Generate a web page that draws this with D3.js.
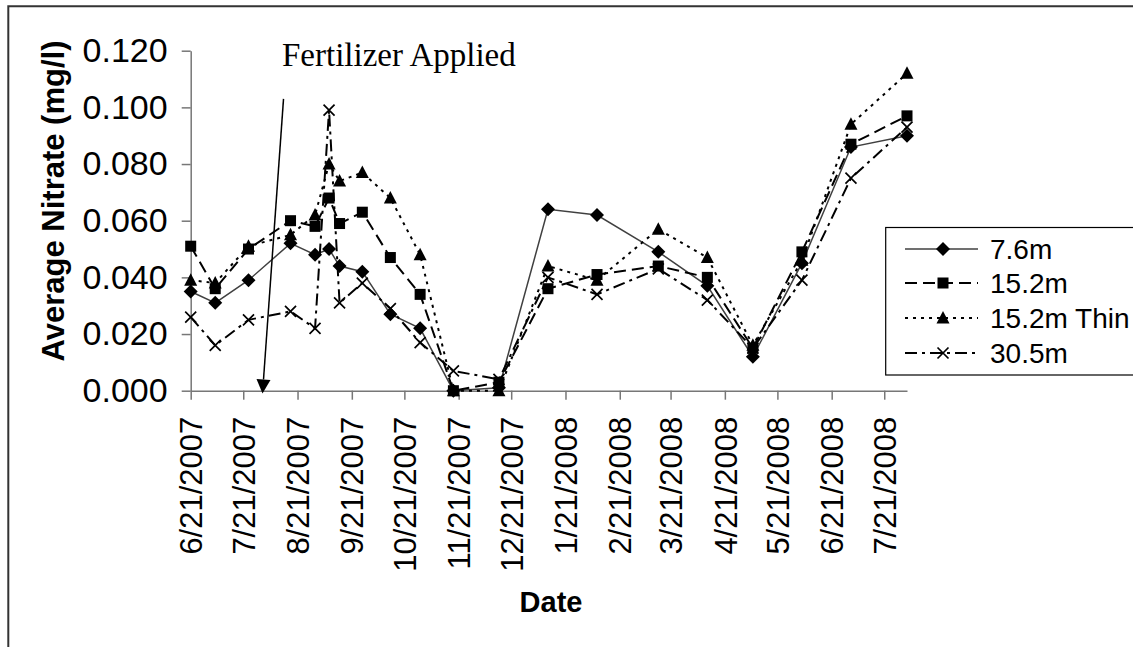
<!DOCTYPE html>
<html>
  <head>
    <meta charset="utf-8">
    <title>Average nitrate</title>
    <script src="https://d3js.org/d3.v7.min.js"></script>
    <style>
      body { margin: 0; background: #fff; }
      svg { display: block; }
      .axis path, .axis line { stroke: #777; stroke-width: 1.5; }
      .axis text { font-family: "Liberation Sans", Arial, sans-serif; fill: #000; }
      .title { font-family: "Liberation Sans", Arial, sans-serif; font-weight: bold; fill: #000; }
      .legend text { font-family: "Liberation Sans", Arial, sans-serif; font-size: 28px; fill: #000; }
      .note { font-family: "Liberation Serif", "Times New Roman", serif; font-size: 33px; fill: #000; }
    </style>
  </head>
  <body>
    <svg id="chart" width="1133" height="647"></svg>
    <script>
      // data
      var dates = ["2007-06-21", "2007-07-05", "2007-07-24", "2007-08-17", "2007-08-31", "2007-09-08",
        "2007-09-14", "2007-09-27", "2007-10-13", "2007-10-30", "2007-11-18", "2007-12-14",
        "2008-01-11", "2008-02-08", "2008-03-14", "2008-04-11", "2008-05-07", "2008-06-04",
        "2008-07-02", "2008-08-03"];
      var seriesNames = ["7.6m", "15.2m", "15.2m Thin", "30.5m"];
      var nitrate76 = [0.035, 0.031, 0.039, 0.052, 0.048, 0.050, 0.044, 0.042, 0.027, 0.022,
        0.000, 0.001, 0.064, 0.062, 0.049, 0.037, 0.012, 0.045, 0.086, 0.090];
      var nitrate152 = [0.051, 0.036, 0.050, 0.060, 0.058, 0.068, 0.059, 0.063, 0.047, 0.034,
        0.000, 0.003, 0.036, 0.041, 0.044, 0.040, 0.015, 0.049, 0.087, 0.097];
      var nitrate152Thin = [0.039, 0.038, 0.051, 0.055, 0.062, 0.080, 0.074, 0.077, 0.068, 0.048,
        0.000, 0.000, 0.044, 0.039, 0.057, 0.047, 0.016, 0.046, 0.094, 0.112];
      var nitrate305 = [0.026, 0.016, 0.025, 0.028, 0.022, 0.099, 0.031, 0.038, 0.029, 0.017,
        0.007, 0.004, 0.040, 0.034, 0.043, 0.032, 0.015, 0.039, 0.075, 0.093];
      var yTicks = [0, 0.02, 0.04, 0.06, 0.08, 0.10, 0.12];
      var xTicks = ["2007-06-21", "2007-07-21", "2007-08-21", "2007-09-21", "2007-10-21", "2007-11-21",
        "2007-12-21", "2008-01-21", "2008-02-21", "2008-03-21", "2008-04-21", "2008-05-21",
        "2008-06-21", "2008-07-21"];
      var arrowFrom = { date: "2007-08-13", value: 0.103 };
      var arrowTo = { date: "2007-08-01", value: -0.001 };

      var parse = d3.timeParse("%Y-%m-%d");
      var styles = [
        { stroke: "#404040", width: 1.5, dash: null, marker: "diamond" },
        { stroke: "#000", width: 2, dash: "12,6", marker: "square" },
        { stroke: "#000", width: 2, dash: "3,5", marker: "triangle" },
        { stroke: "#000", width: 2, dash: "12,5,3,5", marker: "cross" }
      ];
      var series = [nitrate76, nitrate152, nitrate152Thin, nitrate305].map(function(vals, i) {
        return {
          name: seriesNames[i],
          style: styles[i],
          points: vals.map(function(v, j) { return { date: parse(dates[j]), value: v }; })
        };
      });

      var svg = d3.select("#chart");
      var margin = { left: 190.7, right: 907, top: 50.7, bottom: 390.7 };

      // outer frame (clipped at right and bottom)
      svg.append("path")
        .attr("d", "M8.3,660 L8.3,6.3 L1145,6.3")
        .attr("fill", "none")
        .attr("stroke", "#333")
        .attr("stroke-width", 2);

      var x = d3.scaleTime()
        .domain([parse("2007-06-21"), parse("2008-08-03")])
        .range([margin.left, margin.right]);
      var y = d3.scaleLinear()
        .domain([0, 0.12])
        .range([margin.bottom, margin.top]);

      var yAxis = d3.axisLeft(y)
        .tickValues(yTicks)
        .tickFormat(d3.format(".3f"))
        .tickSize(9)
        .tickSizeOuter(0)
        .tickPadding(14);
      var xAxis = d3.axisBottom(x)
        .tickValues(xTicks.map(parse))
        .tickFormat(d3.timeFormat("%-m/%-d/%Y"))
        .tickSize(9)
        .tickSizeOuter(0);

      svg.append("g")
        .attr("class", "axis")
        .attr("transform", "translate(" + margin.left + ",0)")
        .call(yAxis)
        .selectAll("text")
          .style("font-size", "34px");

      var xg = svg.append("g")
        .attr("class", "axis")
        .attr("transform", "translate(0," + margin.bottom + ")")
        .call(xAxis);
      xg.selectAll("text")
        .style("font-size", "31px")
        .attr("text-anchor", "end")
        .attr("transform", "translate(0,26) rotate(-90)")
        .attr("x", 0)
        .attr("y", 0)
        .attr("dy", "0.36em");

      // axis titles
      svg.append("text")
        .attr("class", "title")
        .attr("transform", "translate(53,201) rotate(-90)")
        .attr("text-anchor", "middle")
        .attr("dy", "0.35em")
        .style("font-size", "31px")
        .text("Average Nitrate (mg/l)");
      svg.append("text")
        .attr("class", "title")
        .attr("x", 551)
        .attr("y", 612)
        .attr("text-anchor", "middle")
        .style("font-size", "29px")
        .text("Date");

      // markers
      function drawMarker(g, type, size) {
        var s = size / 2;
        if (type === "diamond") {
          g.append("path").attr("d", "M0," + (-s - 1.5) + " L" + (s + 1.5) + ",0 L0," + (s + 1.5) + " L" + (-s - 1.5) + ",0Z").attr("fill", "#000");
        } else if (type === "square") {
          g.append("rect").attr("x", -s).attr("y", -s).attr("width", size).attr("height", size).attr("fill", "#000");
        } else if (type === "triangle") {
          g.append("path").attr("d", "M0," + (-s - 1.5) + " L" + (s + 1) + "," + (s) + " L" + (-s - 1) + "," + (s) + "Z").attr("fill", "#000");
        } else {
          g.append("path").attr("d", "M" + (-s) + "," + (-s) + " L" + s + "," + s + " M" + (-s) + "," + s + " L" + s + "," + (-s))
            .attr("stroke", "#000").attr("stroke-width", 1.7).attr("fill", "none");
        }
      }

      var line = d3.line()
        .x(function(d) { return x(d.date); })
        .y(function(d) { return y(d.value); });

      var plots = svg.append("g");
      series.forEach(function(s) {
        plots.append("path")
          .attr("d", line(s.points))
          .attr("fill", "none")
          .attr("stroke", s.style.stroke)
          .attr("stroke-width", s.style.width)
          .attr("stroke-dasharray", s.style.dash);
      });
      series.forEach(function(s) {
        s.points.forEach(function(d) {
          var g = plots.append("g")
            .attr("transform", "translate(" + x(d.date) + "," + y(d.value) + ")");
          drawMarker(g, s.style.marker, 11);
        });
      });

      // fertilizer annotation
      var ax1 = x(parse(arrowFrom.date)), ay1 = y(arrowFrom.value);
      var ax2 = x(parse(arrowTo.date)), ay2 = y(arrowTo.value);
      var ang = Math.atan2(ay2 - ay1, ax2 - ax1);
      var headLen = 14, headHalf = 7;
      var bx = ax2 - headLen * Math.cos(ang), by = ay2 - headLen * Math.sin(ang);
      svg.append("line")
        .attr("x1", ax1).attr("y1", ay1)
        .attr("x2", bx).attr("y2", by)
        .attr("stroke", "#000")
        .attr("stroke-width", 1.5);
      svg.append("path")
        .attr("d", "M" + ax2 + "," + ay2 +
          " L" + (bx + headHalf * Math.sin(ang)) + "," + (by - headHalf * Math.cos(ang)) +
          " L" + (bx - headHalf * Math.sin(ang)) + "," + (by + headHalf * Math.cos(ang)) + "Z")
        .attr("fill", "#000");
      svg.append("text")
        .attr("class", "note")
        .attr("x", 282)
        .attr("y", 66)
        .text("Fertilizer Applied");

      // legend
      var legend = svg.append("g").attr("class", "legend");
      legend.append("rect")
        .attr("x", 885.7)
        .attr("y", 227.5)
        .attr("width", 300)
        .attr("height", 147.5)
        .attr("fill", "#fff")
        .attr("stroke", "#000")
        .attr("stroke-width", 1.2);
      var rowY = [249, 283, 318, 353];
      series.forEach(function(s, i) {
        var row = legend.append("g").attr("transform", "translate(0," + rowY[i] + ")");
        row.append("line")
          .attr("x1", 905).attr("x2", 978)
          .attr("stroke", s.style.stroke)
          .attr("stroke-width", s.style.width)
          .attr("stroke-dasharray", s.style.dash);
        drawMarker(row.append("g").attr("transform", "translate(943,0)"), s.style.marker, 11);
        row.append("text")
          .attr("x", 990)
          .attr("dy", "0.36em")
          .text(s.name);
      });
    </script>
  </body>
</html>
